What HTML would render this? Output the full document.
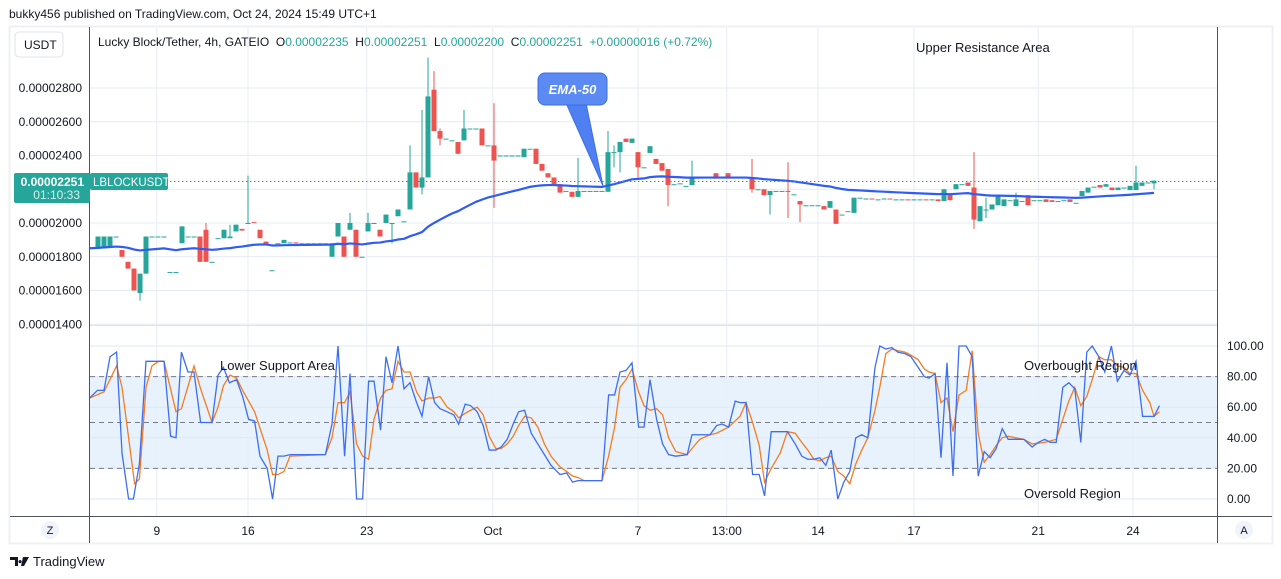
<!DOCTYPE html>
<html><head><meta charset="utf-8"><style>
html,body{margin:0;padding:0;background:#fff;width:1281px;height:579px;overflow:hidden}
svg{display:block;font-family:"Liberation Sans",sans-serif}
</style></head><body>
<svg id="chart" width="1281" height="579" viewBox="0 0 1281 579" xmlns="http://www.w3.org/2000/svg">
<text x="9" y="18" font-size="12" fill="#131722">bukky456 published on TradingView.com, Oct 24, 2024 15:49 UTC+1</text>
<rect x="9.5" y="26.5" width="1263" height="517" fill="#fff" stroke="#eef0f5" stroke-width="2"/>
<g id="grid"></g>
<rect x="90" y="377" width="1127" height="91.8" fill="#e3f0fc" opacity="0.85"/>
<g id="oscgrid"></g>
<g id="candles" clip-path="url(#clipTop)"></g>
<clipPath id="clipTop"><rect x="90" y="28" width="1127" height="296"/></clipPath>
<clipPath id="clipBot"><rect x="90" y="326" width="1127" height="190"/></clipPath>
<g id="osc" clip-path="url(#clipBot)"></g>
<line x1="90" y1="325.5" x2="1217" y2="325.5" stroke="#e0e3eb" stroke-width="1"/>
<line x1="89.5" y1="27" x2="89.5" y2="543" stroke="#50535e" stroke-width="1"/>
<line x1="1217.5" y1="27" x2="1217.5" y2="543" stroke="#50535e" stroke-width="1"/>
<line x1="10" y1="516.5" x2="1272" y2="516.5" stroke="#50535e" stroke-width="1"/>
<g id="axes"></g>
<rect x="15" y="32" width="48" height="25" rx="4" fill="#fff" stroke="#e0e3eb"/>
<text x="24" y="49" font-size="12" fill="#131722">USDT</text>
<text x="98" y="46" font-size="12" fill="#131722" xml:space="preserve" style="white-space:pre">Lucky Block/Tether, 4h, GATEIO  O<tspan fill="#26a69a">0.00002235</tspan>  H<tspan fill="#26a69a">0.00002251</tspan>  L<tspan fill="#26a69a">0.00002200</tspan>  C<tspan fill="#26a69a">0.00002251  +0.00000016 (+0.72%)</tspan></text>
<text x="916" y="52" font-size="13" fill="#131722">Upper Resistance Area</text>
<text x="220" y="370" font-size="13" fill="#131722">Lower Support Area</text>
<text x="1024" y="370" font-size="13" fill="#131722">Overbought Region</text>
<text x="1024" y="498" font-size="13" fill="#131722">Oversold Region</text>
<g>
<path d="M566 103 L586 103 L603 186 Z" fill="#4f7ff0" stroke="#3c6ee8" stroke-width="1"/>
<rect x="538" y="73" width="69" height="32" rx="7" fill="#5a8af2" stroke="#3c6ee8" stroke-width="1"/>
<text x="572.5" y="94" font-size="13" font-style="italic" font-weight="bold" fill="#fff" text-anchor="middle">EMA-50</text>
</g>
<line x1="90" y1="181.5" x2="1217" y2="181.5" stroke="#26a69a" stroke-width="1" stroke-dasharray="1.5,2.5"/>
<rect x="14" y="173" width="76" height="30" rx="2" fill="#26a69a"/>
<text x="84" y="186" font-size="12" font-weight="bold" fill="#fff" text-anchor="end">0.00002251</text>
<text x="80" y="199" font-size="12" fill="#d6f0ec" text-anchor="end">01:10:33</text>
<rect x="90" y="173" width="78" height="17" rx="2" fill="#26a69a"/>
<text x="93" y="186" font-size="11.5" fill="#fff">LBLOCKUSDT</text>
<circle cx="50" cy="530" r="9" fill="#f0f3fa"/>
<text x="50" y="534" font-size="11" fill="#131722" text-anchor="middle">Z</text>
<circle cx="1244" cy="530" r="9" fill="#f0f3fa"/>
<text x="1244" y="534" font-size="11" fill="#131722" text-anchor="middle">A</text>
<g>
<path d="M10 557 h8 v9 h-3 v-6 h-5 z M20 560 a1.6 1.6 0 1 0 0.1 0 z M23 557 h6 l-5 9 h-3 z" fill="#131722"/>
<text x="33" y="566" font-size="13" fill="#131722">TradingView</text>
</g>
</svg>
<script>
// ---- price data (units of 1e-6 USDT), one entry per 4h candle ----
const opens = [18.5,18.5,18.6,19.2,18.4,17.7,17.3,15.85,17.0,19.2,19.2,19.2,17.1,17.1,18.8,19.2,19.2,19.2,19.6,17.7,19.1,19.1,19.1,19.5,19.65,20.0,20.05,19.6,18.9,17.2,
18.8,18.8,18.85,18.85,18.8,18.8,18.8,18.8,18.8,18.0,19.2,19.2,19.6,19.6,18.0,19.5,20.0,19.6,20.0,20.0,20.4,20.1,20.8,23.0,22.1,22.7,27.9,25.45,25.0,24.9,
24.8,24.9,25.6,25.6,25.6,24.6,24.6,24.0,24.0,24.0,24.0,23.9,24.4,24.4,23.5,22.95,22.7,22.3,21.9,21.85,21.55,21.9,21.9,21.9,21.9,21.85,24.2,24.2,25.0,24.75,
24.2,23.3,24.15,23.8,23.55,23.2,22.3,22.35,22.2,22.25,22.7,22.7,22.7,22.95,22.7,22.95,22.7,22.7,22.7,22.7,22.0,22.0,21.65,21.9,21.9,21.9,21.7,21.3,21.05,21.05,
21.05,21.0,20.9,20.8,20.5,20.7,20.6,21.5,21.4,21.45,21.4,21.4,21.45,21.4,21.4,21.4,21.35,21.4,21.4,21.35,21.4,21.3,21.7,22.0,22.3,22.4,22.1,20.1,20.8,20.8,
21.05,21.0,21.35,21.0,21.3,21.65,21.35,21.35,21.4,21.35,21.3,21.35,21.4,21.2,21.6,21.8,22.15,22.25,22.15,22.1,21.95,22.1,21.95,21.95,22.2,22.4,22.35];
const closes = [19.2,19.2,19.2,19.2,18.0,17.3,16.0,17.0,19.2,19.2,19.2,19.2,17.1,17.1,19.8,19.2,19.2,17.7,17.7,17.7,19.1,19.6,19.2,19.9,19.55,20.0,20.0,19.1,18.75,17.2,
18.8,19.0,18.85,18.8,18.8,18.8,18.8,18.8,18.8,18.8,20.0,18.0,20.0,18.0,18.0,20.0,20.0,19.2,20.5,20.0,20.8,20.1,23.0,22.1,22.7,27.5,25.45,25.0,25.0,24.9,
24.1,25.6,25.6,25.6,24.6,24.6,23.7,24.0,24.0,24.0,24.0,24.4,24.4,23.5,23.1,22.7,22.25,21.8,21.9,21.55,21.9,21.9,21.9,21.9,21.9,24.2,24.2,24.8,24.8,25.0,
23.3,23.3,24.55,23.5,23.1,22.25,22.3,22.35,22.2,22.7,22.7,22.7,22.7,22.7,22.7,22.7,22.7,22.7,22.7,22.0,22.0,21.65,21.9,21.9,21.9,21.85,21.7,21.1,21.05,21.05,
21.05,20.8,21.3,19.95,20.5,20.7,21.5,21.5,21.45,21.4,21.4,21.45,21.4,21.4,21.4,21.35,21.4,21.4,21.35,21.4,21.3,22.0,21.35,22.3,22.3,22.2,20.2,21.0,20.8,21.1,
21.65,21.4,21.35,21.4,21.3,21.05,21.35,21.35,21.25,21.25,21.3,21.35,21.25,21.2,21.9,22.1,22.15,22.1,22.3,21.95,22.1,22.1,22.2,22.4,22.4,22.4,22.51];
// extra wicks: candle index, high, low
const wickIdx  = [7,18,22,25,42,45,49,52,54,55,56,57,61,66,80,85,86,87,90,95,99,109,112,115,117,146,148,153,173,176];
const wickHigh = [17.0,20.0,19.9,22.8,20.6,20.6,20.0,24.6,26.7,29.8,29.0,25.6,26.7,27.1,23.85,25.45,24.6,24.8,24.2,23.2,23.7,23.8,21.9,23.6,21.3,24.2,21.5,21.8,23.4,22.51];
const wickLow  = [15.4,17.7,19.1,20.0,19.6,19.5,18.8,20.8,21.7,22.7,25.45,24.6,24.9,20.9,21.55,21.85,23.3,23.0,22.7,21.0,22.25,21.8,20.5,20.3,20.05,19.65,20.3,21.0,21.95,22.0];
const priceTicks = [28,26,24,22,20,18,16,14];
const priceTickLabels = ["0.00002800","0.00002600","0.00002400","0.00002200","0.00002000","0.00001800","0.00001600","0.00001400"];
// ---- time axis (position in candle index) ----
const timeTickPos = [9.8,25,44.8,65.8,90,104.8,120,136,156.7,172.5];
const timeTickLabels = ["9","16","23","Oct","7","13:00","14","17","21","24"];
// ---- stochastic %K (time index, value) ----
const kTime = [-1.4,-0.1,1.0,2.0,3.1,4.0,5.1,5.9,6.9,8.0,9.0,10.1,11.0,12.1,13.0,13.9,15.0,16.0,17.1,19.0,20.0,20.9,21.9,23.1,24.1,25.1,26.1,27.0,28.2,29.1,30.0,31.0,32.0,37.9,39.0,40.0,41.1,42.0,43.1,44.1,45.1,46.0,47.1,48.0,49.0,50.0,51.0,52.0,53.1,54.0,55.1,56.1,57.0,58.2,59.3,60.1,61.2,62.1,63.2,64.2,65.2,66.3,67.2,68.2,69.2,70.1,71.1,72.2,73.3,74.4,75.5,77.0,78.1,79.1,80.0,81.0,81.9,84.0,85.1,86.1,87.0,88.0,89.0,90.1,91.0,92.0,93.1,94.1,95.1,96.3,98.2,99.0,100.3,102.0,103.1,104.0,105.1,106.2,107.0,108.0,109.1,110.2,111.1,112.2,113.7,114.9,116.2,117.3,118.3,119.3,120.3,121.3,122.2,123.3,124.3,125.3,126.3,127.3,128.3,129.5,130.3,131.3,132.3,133.3,134.5,135.5,136.7,137.7,138.5,139.5,140.5,141.5,142.5,143.5,144.7,145.7,146.7,147.7,148.7,149.7,150.7,151.7,153.0,154.3,155.7,156.7,157.8,158.7,159.7,160.8,161.8,162.8,163.8,164.8,165.7,166.8,167.8,168.9,169.9,171.0,172.0,173.0,174.1,175.3,176.0,176.9];
const kValues = [66,71,71,93,96,30,0,0,23,90,90,90,90,41,40,96,83,83,50,50,81,86,76,78,67,52,51,28,20,0,28,28,29,29,49,100,28,82,0,0,77,77,45,93,76,100,72,76,63,54,80,63,59,57,55,49,62,61,57,48,32,32,34,39,49,57,58,43,36,29,22,16,17,11,12,12,12,12,68,68,83,84,89,47,47,78,52,36,29,28,29,42,42,42,48,49,47,64,63,63,16,16,2,44,44,44,36,28,26,26,27,22,32,0,11,18,40,42,40,86,100,98,99,96,95,93,86,80,79,82,27,89,15,100,100,93,15,31,27,33,46,39,39,39,34,37,39,37,37,73,76,72,37,96,100,93,83,100,77,84,81,90,54,54,54,61];
// ---- stochastic %D ----
const dTime = [-1.4,1.0,3.1,4.0,6.1,6.9,8.0,9.0,10.1,11.0,13.0,13.9,16.0,17.1,19.0,20.0,20.9,22.0,23.1,24.1,26.1,28.2,29.1,30.0,31.0,32.0,37.9,39.0,40.0,41.1,42.0,43.1,44.1,45.1,46.0,47.1,48.0,49.0,50.0,51.0,52.0,53.1,54.0,55.1,56.1,57.0,58.2,59.3,60.1,61.2,62.1,63.2,64.2,65.2,66.3,67.2,68.2,69.2,70.1,71.1,72.2,73.3,74.4,75.5,77.0,78.1,79.1,80.0,81.0,84.0,85.1,86.1,87.0,88.0,89.0,90.1,91.0,92.0,93.1,94.1,95.1,96.3,98.2,99.0,100.3,102.0,103.1,105.1,107.0,108.0,109.1,110.2,111.1,112.2,113.7,114.9,116.2,117.3,118.3,119.3,120.3,121.3,122.2,123.3,124.3,125.3,126.3,127.3,128.3,129.5,130.3,131.3,132.3,133.3,134.5,135.5,136.7,137.7,138.5,139.5,140.5,141.5,142.5,143.5,144.7,145.7,146.7,147.7,148.7,149.7,150.7,151.7,153.0,154.3,155.7,157.8,159.7,160.8,161.8,162.8,163.8,164.8,165.7,166.8,167.8,168.9,169.9,171.0,172.0,173.0,174.1,175.3,176.0,176.9];
const dValues = [66,70,87,73,10,13,73,87,90,90,57,59,87,72,50,60,74,81,79,71,57,32,16,16,18,28,29,40,63,63,70,36,28,26,52,66,71,72,90,83,83,70,64,66,66,67,60,57,53,56,58,60,55,41,33,33,36,41,48,54,53,47,36,28,21,18,15,14,12,12,28,47,73,78,85,70,61,58,59,55,40,31,29,33,39,42,43,47,54,63,50,35,11,20,30,44,43,37,32,26,25,27,28,18,15,10,23,32,40,58,73,95,98,97,96,94,91,85,83,82,63,66,44,68,71,97,43,24,29,35,40,41,40,39,36,37,39,52,64,73,61,67,78,93,91,91,87,86,82,82,71,63,54,57];
const oscTicks = [100,80,60,40,20,0];

const NS="http://www.w3.org/2000/svg";
function mk(tag, attrs, parent){const e=document.createElementNS(NS,tag);for(const k in attrs)e.setAttribute(k,attrs[k]);parent.appendChild(e);return e;}
const xOf = t => 98 + t*6;
const yP = p => 88 + (28-p)*16.875;
const yO = v => 499 - v*1.53;

const grid=document.getElementById('grid'), axes=document.getElementById('axes');
priceTicks.forEach((p,i)=>{
  const l=mk('line',{x1:90,x2:1217,y1:yP(p),y2:yP(p),stroke:'#e6ecf3','stroke-width':1},grid);
  
  
  const t=mk('text',{x:82,y:yP(p)+4,'font-size':12,fill:'#131722','text-anchor':'end'},axes);
  
  
  t.textContent=priceTickLabels[i];
});
timeTickPos.forEach((tp,i)=>{
  const l=mk('line',{x1:xOf(tp),x2:xOf(tp),y1:28,y2:516,stroke:'#e6ecf3','stroke-width':1},grid);
  
  
  const t=mk('text',{x:xOf(tp),y:535,'font-size':12,fill:'#131722','text-anchor':'middle'},axes);
  
  
  t.textContent=timeTickLabels[i];
});
const og=document.getElementById('oscgrid');
oscTicks.forEach(v=>{
  const l=mk('line',{x1:90,x2:1217,y1:yO(v),y2:yO(v),stroke:'#dfe8f2','stroke-width':1},og);
  
  
  const t=mk('text',{x:1227,y:yO(v)+4,'font-size':12,fill:'#131722'},axes);
  
  
  t.textContent=v.toFixed(2);
});
[80,50,20].forEach(v=>{
  const l=mk('line',{x1:90,x2:1217,y1:yO(v),y2:yO(v),stroke:'#787b86','stroke-width':1,'stroke-dasharray':'5,4'},og);
  
  
});

// candles
const cg=document.getElementById('candles');
for(let i=0;i<closes.length;i++){
  const o=opens[i], c=closes[i];
  let hi=Math.max(o,c), lo=Math.min(o,c);
  const w=wickIdx.indexOf(i);
  if(w>=0){hi=Math.max(hi,wickHigh[w]);lo=Math.min(lo,wickLow[w]);}
  const col = c>=o ? '#26a69a' : '#ef5350';
  const x=xOf(i);
  const wl=mk('line',{x1:x,x2:x,y1:yP(hi),y2:yP(lo),stroke:col,'stroke-width':1},cg);
  
  
  const top=yP(Math.max(o,c)), h=Math.max(1,yP(Math.min(o,c))-top);
  const r=mk('rect',{x:x-2.5,y:top,width:5,height:h,fill:col},cg);
  
  
}
// EMA-50 computed from closes
let ema=18.5; const kk=2/51; let pts=[[89,yP(ema)]];
for(let i=0;i<closes.length;i++){ema=closes[i]*kk+ema*(1-kk);pts.push([xOf(i),yP(ema)]);}
const ep=mk('polyline',{points:pts.map(p=>p.join(',')).join(' '),fill:'none',stroke:'#2f5cf5','stroke-width':2.2,'stroke-linejoin':'round'},cg);



// stochastic
const osc=document.getElementById('osc');
const dl=mk('polyline',{points:dTime.map((t,i)=>xOf(t)+','+yO(dValues[i])).join(' '),fill:'none',stroke:'#f57c1f','stroke-width':1.3},osc);


const kl=mk('polyline',{points:kTime.map((t,i)=>xOf(t)+','+yO(kValues[i])).join(' '),fill:'none',stroke:'#3d6ef2','stroke-width':1.3},osc);


</script>
</body></html>
